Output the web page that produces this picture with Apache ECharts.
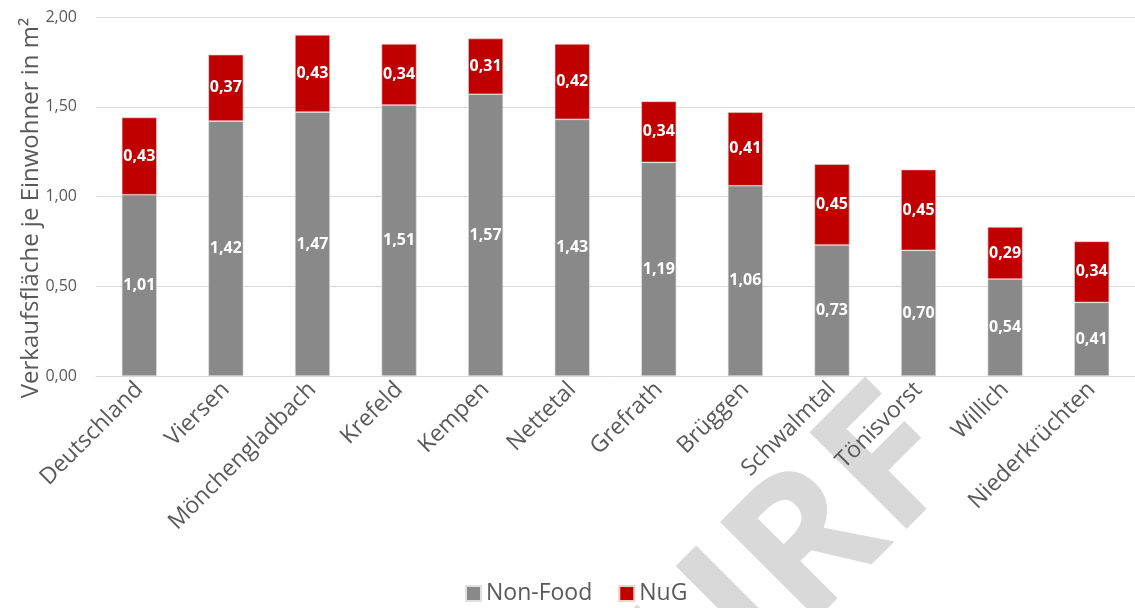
<!DOCTYPE html>
<html><head><meta charset="utf-8">
<script src="https://cdn.jsdelivr.net/npm/echarts@6/dist/echarts.min.js"></script>
<style>html,body{margin:0;padding:0;background:#fff}#c{width:1135px;height:608px}</style>
</head><body><div id="c"></div>
<script>
const categories = ['Deutschland','Viersen','Mönchengladbach','Krefeld','Kempen','Nettetal','Grefrath','Brüggen','Schwalmtal','Tönisvorst','Willich','Niederkrüchten'];
const nonFood = [1.01,1.42,1.47,1.51,1.57,1.43,1.19,1.06,0.73,0.70,0.54,0.41];
const nuG = [0.43,0.37,0.43,0.34,0.31,0.42,0.34,0.41,0.45,0.45,0.29,0.34];
const seriesNames = ['Non-Food','NuG'];
const yTitle = 'Verkaufsfläche je Einwohner in m²';
const watermark = 'ENTWURF';

const FONT = '"Open Sans", "Noto Sans", sans-serif';
const fmt = v => v.toFixed(2).replace('.', ',');
const chart = echarts.init(document.getElementById('c'), null, {renderer:'canvas'});
const lbl = {show:true, position:'inside', color:'#fff', fontWeight:'bold', fontSize:16, fontFamily:FONT,
  formatter: p => fmt(p.value)};
chart.setOption({
  animation:false,
  textStyle:{fontFamily:FONT},
  graphic:[
    {type:'text', z:-10, zlevel:0, silent:true, x:998, y:496, rotation:Math.PI/4,
     style:{text:watermark, fill:'#d9d9d9', font:'bold 192px "Open Sans", sans-serif', textAlign:'right', textVerticalAlign:'bottom'}},
    {type:'text', silent:true, x:31, y:208, rotation:Math.PI/2,
     style:{text:yTitle, fill:'#595959', font:'24px "Open Sans", sans-serif', textAlign:'center', textVerticalAlign:'middle'}}
  ],
  grid:{left:96, top:17, width:1049, height:359},
  legend:{bottom:-2, left:460, itemWidth:15, itemHeight:15, itemGap:26, icon:'rect',
    textStyle:{fontSize:23, color:'#595959', fontFamily:FONT}, data:seriesNames},
  xAxis:{type:'category', data:categories,
    axisLine:{lineStyle:{color:'#d9d9d9', width:1}}, axisTick:{show:false},
    axisLabel:{rotate:45, fontSize:23, color:'#595959', margin:10, interval:0, fontFamily:FONT}},
  yAxis:{type:'value', min:0, max:2, interval:0.5,
    axisLabel:{formatter:v=>fmt(v), fontSize:16, color:'#595959', margin:19, fontFamily:FONT},
    splitLine:{lineStyle:{color:'#d9d9d9', width:1}}, axisLine:{show:false}, axisTick:{show:false}},
  series:[
    {name:seriesNames[0], type:'bar', stack:'a', data:nonFood, barWidth:35,
     itemStyle:{color:'#898989', borderColor:'#e0e0e0', borderWidth:0.6}, label:lbl},
    {name:seriesNames[1], type:'bar', stack:'a', data:nuG, barWidth:35,
     itemStyle:{color:'#c00000', borderColor:'#f0d0d0', borderWidth:0.6}, label:lbl}
  ]
});
</script></body></html>
